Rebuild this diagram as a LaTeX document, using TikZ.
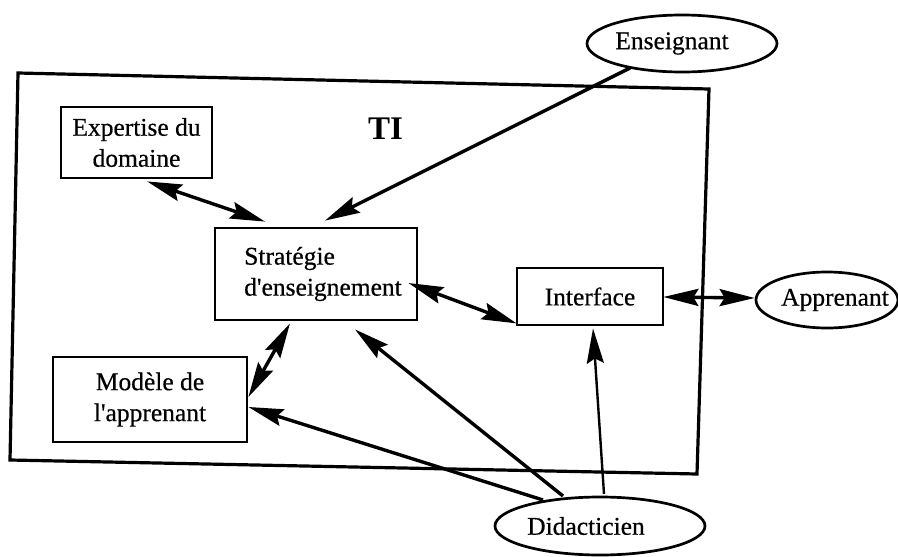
\documentclass[tikz,border=0pt]{standalone}
\usepackage{fontspec}
\setmainfont{Liberation Serif}[FakeBold=0.5]
\newfontfamily\boldserif{Liberation Serif Bold}
\usetikzlibrary{arrows.meta,shapes.geometric,calc}
\begin{document}
\begin{tikzpicture}[x=1pt,y=-1pt,
  box/.style={draw, line width=2.8pt, inner sep=0pt, align=center, font=\fontsize{25.5}{31}\selectfont},
  oval/.style={draw, ellipse, line width=2.7pt, inner sep=0pt, font=\fontsize{25.5}{31}\selectfont},
  tip/.tip={Stealth[length=35pt,width=17pt,inset=5pt]},
  link/.style={line width=3.4pt, -tip},
  both/.style={line width=3.4pt, tip-tip},
  thinlink/.style={line width=2.4pt, -tip}
]
\useasboundingbox (0,0) rectangle (898,557);
% outer frame
\coordinate (f1) at (18,73);
\coordinate (f2) at (709,89);
\coordinate (f3) at (697,474);
\coordinate (f4) at (10,460);
\draw[line width=3.2pt, line join=miter] (f1) -- (f2) -- (f3) -- (f4) -- cycle;
\node[font=\boldserif\fontsize{33}{33}\selectfont] (ti) at (385.5,129) {TI};
% boxes
\node[box, minimum width=151pt, minimum height=71pt] (exp) at (136.5,142.5) {Expertise du\\domaine};
\node[box, align=left, minimum width=202pt, minimum height=92pt] (strat) at (316,274) {\hspace*{14pt}Stratégie\\\hspace*{14pt}d\textquotesingle enseignement};
\node[box, minimum width=194pt, minimum height=85pt] (mod) at (150,399.5) {Modèle de\\l\textquotesingle apprenant};
\node[box, minimum width=146pt, minimum height=57pt] (iface) at (590,296.5) {Interface};
% ellipses
\node[oval, minimum width=190pt, minimum height=57pt] (ens) at (682,43.5) {\makebox[0pt]{Enseignant\hspace*{20pt}}};
\node[oval, minimum width=142pt, minimum height=56pt] (appr) at (827,300) {\makebox[0pt]{\hspace*{16pt}Apprenant}};
\node[oval, minimum width=210pt, minimum height=58pt] (did) at (600,526) {\makebox[0pt]{Didacticien\hspace*{28pt}}};
% connectors
\draw[both] ($(exp.south)+(10.5,2)$) -- ($(strat.north)+(-51,-5)$);
\draw[link] ($(ens.center)+(-52,24.5)$) -- ($(strat.north)+(9,-6)$);
\draw[both] ($(strat.east)+(-10,9)$) -- ($(iface.south west)+(1,-3)$);
\draw[both] ($(iface.east)+(-1,0.5)$) -- ($(appr.west)+(0,-2)$);
\draw[both] ($(strat.south)+(-26,2)$) -- ($(mod.east)+(0,-2.5)$);
\draw[link] ($(did.center)+(-57,-26)$) -- ($(mod.east)+(0,7.5)$);
\draw[link] ($(did.center)+(-37,-30)$) -- ($(strat.south)+(39,8)$);
\draw[thinlink] ($(did.center)+(4,-32)$) -- ($(iface.south)+(3,2)$);
\end{tikzpicture}
\end{document}
